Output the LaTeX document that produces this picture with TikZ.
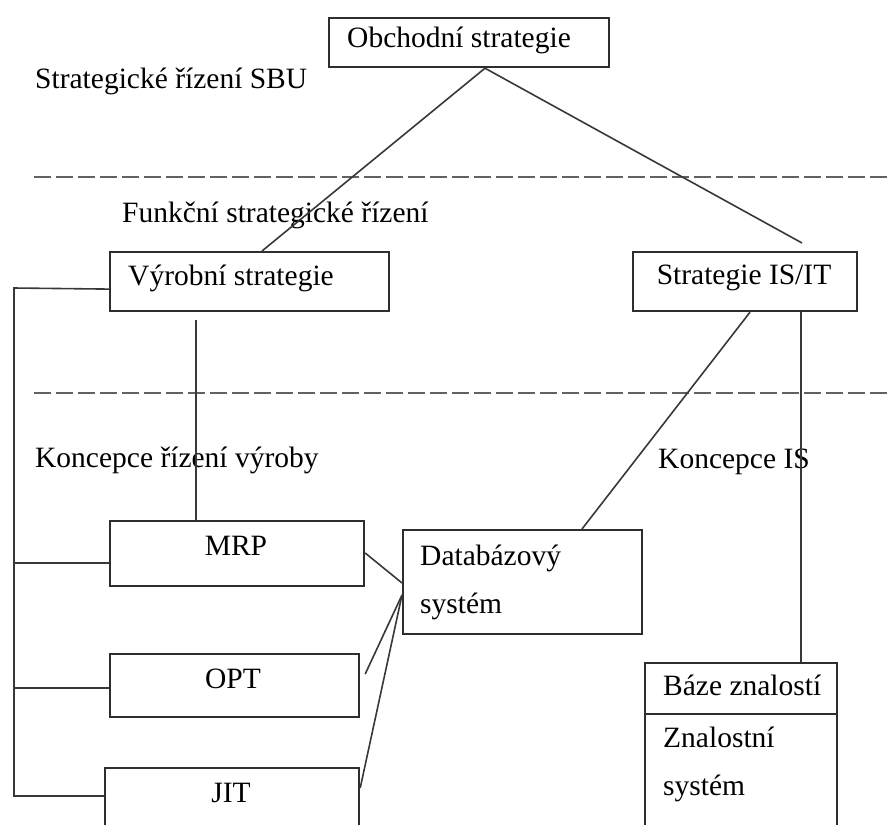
\documentclass[tikz,border=0pt]{standalone}
\usepackage{fontspec}
\setmainfont{Liberation Serif}
\usetikzlibrary{calc}

\tikzset{
  box/.style={draw=black!82, line width=2.2pt, rectangle, inner sep=0pt, fill=none},
  txt/.style={inner sep=0pt, text=black, font=\fontsize{29.5}{35}\selectfont},
  link/.style={draw=black!78, line width=1.6pt},
  level/.style={draw=black!62, line width=2.8pt, dash pattern=on 17pt off 5pt},
}

\begin{document}
\begin{tikzpicture}[x=1pt, y=-1pt]
  \useasboundingbox (0,0) rectangle (892,825);

  % boxes
  \node[box, anchor=north west, minimum width=280pt, minimum height=49pt] (obch) at (328,17) {};
  \node[box, anchor=north west, minimum width=279pt, minimum height=59pt] (vyr) at (109,251) {};
  \node[box, anchor=north west, minimum width=224pt, minimum height=59pt] (isit) at (632,251) {};
  \node[box, anchor=north west, minimum width=254pt, minimum height=65pt] (mrp) at (109,520) {};
  \node[box, anchor=north west, minimum width=249pt, minimum height=63pt] (opt) at (109,653) {};
  \node[box, anchor=north west, minimum width=254pt, minimum height=70pt] (jit) at (104,767) {};
  \node[box, anchor=north west, minimum width=239pt, minimum height=104pt] (db) at (402,529) {};
  \node[box, anchor=north west, minimum width=192pt, minimum height=175pt] (baze) at (644,662) {};
  \draw[box] ([yshift=-52pt]baze.north west) -- ([yshift=-52pt]baze.north east);

  % box texts
  \node[txt, anchor=base west] (tobch) at (347,47) {Obchodní strategie};
  \node[txt, anchor=base west] (tvyr) at (128,285) {Výrobní strategie};
  \node[txt, anchor=base] (tisit) at (744,284) {Strategie IS/IT};
  \node[txt, anchor=base] (tmrp) at (236,555) {MRP};
  \node[txt, anchor=base] (topt) at (233,688) {OPT};
  \node[txt, anchor=base] (tjit) at (231,802) {JIT};
  \node[txt, anchor=base west] (tdb1) at (420,565) {Databázový};
  \node[txt, anchor=base west] (tdb2) at (420,613) {systém};
  \node[txt, anchor=base west] (tbz1) at (663,695) {Báze znalostí};
  \node[txt, anchor=base west] (tbz2) at (663,747) {Znalostní};
  \node[txt, anchor=base west] (tbz3) at (663,795) {systém};

  % level labels
  \node[txt, anchor=base west] (lsbu) at (35,88) {Strategické řízení SBU};
  \node[txt, anchor=base west] (lfun) at (122,222) {Funkční strategické řízení};
  \node[txt, anchor=base west] (lkrv) at (35,467) {Koncepce řízení výroby};
  \node[txt, anchor=base west] (lkis) at (658,468) {Koncepce IS};

  % level separators
  \coordinate (d1a) at (34,177);
  \coordinate (d1b) at (892,177);
  \coordinate (d2a) at (34,393);
  \coordinate (d2b) at (892,393);
  \draw[level] (d1a) -- (d1b);
  \draw[level] (d2a) -- (d2b);

  % connectors from the business strategy
  \coordinate (ob) at ([xshift=157pt]obch.south west);
  \draw[link] (ob) -- ([xshift=153pt]vyr.north west);
  \draw[link] (ob) -- ([xshift=170pt, yshift=8pt]isit.north west);

  % production strategy down to MRP
  \coordinate (vs) at ([xshift=87pt, yshift=-8pt]vyr.south west);
  \draw[link] (vs) -- (vs |- mrp.north);

  % left bus joining the production boxes
  \coordinate (bt) at (14,288);
  \coordinate (bb) at (14,796);
  \draw[link] ([yshift=-7.5pt]vyr.west) -- (bt) -- (bb) -- ([yshift=-29pt]jit.north west);
  \draw[link] ([yshift=-9.5pt]mrp.west) -- ([yshift=-9.5pt]mrp.west -| bt);
  \draw[link] ([yshift=-2.5pt]opt.west) -- ([yshift=-2.5pt]opt.west -| bt);

  % production concepts to the database system
  \draw[link] ([yshift=-33pt]mrp.north east) -- ([yshift=-54pt]db.north west);
  \draw[link] ([xshift=5pt, yshift=-21pt]opt.north east) -- ([yshift=-66pt]db.north west);
  \draw[link] ([yshift=-21pt]jit.north east) -- ([yshift=-66pt]db.north west);

  % IS/IT strategy downwards
  \draw[link] ([xshift=118pt]isit.south west) -- ([xshift=180pt]db.north west);
  \coordinate (ik) at ([xshift=169pt]isit.south west);
  \draw[link] (ik) -- (ik |- baze.north);
\end{tikzpicture}
\end{document}
